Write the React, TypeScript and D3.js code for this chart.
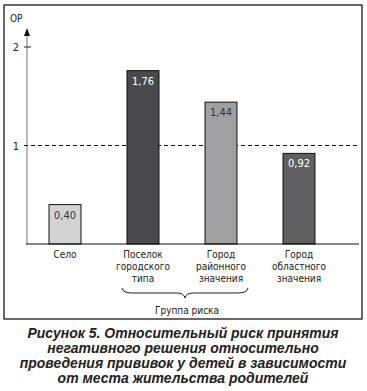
import { useEffect, useRef } from 'react';
import * as d3 from 'd3';

// Категории и значения ОР
const categories = ['Село', 'Поселок городского типа', 'Город районного значения', 'Город областного значения'];
const labelLines = [['Село'], ['Поселок', 'городского', 'типа'], ['Город', 'районного', 'значения'], ['Город', 'областного', 'значения']];
const values = [0.4, 1.76, 1.44, 0.92];
const valueLabels = ['0,40', '1,76', '1,44', '0,92'];
const barColors = ['#d3d3d4', '#4a4a4c', '#a0a0a2', '#5f5f61'];
const valueColors = ['#333', '#fff', '#333', '#fff'];
const yTicks = [1, 2];
const riskGroup = ['Поселок городского типа', 'Город районного значения'];
const captionLines = [
  'Рисунок 5. Относительный риск принятия',
  'негативного решения относительно',
  'проведения прививок у детей в зависимости',
  'от места жительства родителей',
];

const W = 367;
const H = 391;
const NARROW = "'Liberation Sans Narrow', 'DejaVu Sans Condensed', 'Arial Narrow', sans-serif";

export default function App() {
  const svgRef = useRef<SVGSVGElement>(null);

  useEffect(() => {
    if (!svgRef.current) return;
    const svg = d3.select(svgRef.current);
    svg.selectAll('*').remove();

    const x = d3.scaleBand<string>()
      .domain(categories)
      .range([26, 338])
      .paddingInner(0.59)
      .paddingOuter(0.295);
    const y = d3.scaleLinear().domain([0, 2]).range([244, 47]);
    const axisX = 27;

    // рамка
    svg.append('rect')
      .attr('x', 4).attr('y', 5).attr('width', 358).attr('height', 314)
      .attr('fill', 'none').attr('stroke', '#1a1a1a').attr('stroke-width', 1.3);

    // ось Y со стрелкой
    svg.append('line')
      .attr('x1', axisX).attr('x2', axisX).attr('y1', 34).attr('y2', 244)
      .attr('stroke', '#777').attr('stroke-width', 1);
    svg.append('path')
      .attr('d', `M${axisX},28 L${axisX - 3},36 L${axisX + 3},36 Z`)
      .attr('fill', '#111');
    svg.append('text')
      .attr('x', 10).attr('y', 22)
      .attr('font-family', NARROW).attr('font-size', 10).attr('fill', '#222')
      .text('ОР');

    // деления
    svg.append('line')
      .attr('x1', axisX - 3).attr('x2', axisX + 4).attr('y1', y(2)).attr('y2', y(2))
      .attr('stroke', '#222');
    svg.selectAll('.ytick')
      .data(yTicks)
      .enter()
      .append('text')
      .attr('x', 19).attr('y', (d) => y(d) + 4)
      .attr('text-anchor', 'end')
      .attr('font-family', NARROW).attr('font-size', 11).attr('fill', '#222')
      .text((d) => d);

    // пунктир ОР = 1
    svg.append('line')
      .attr('x1', axisX - 3).attr('x2', 360).attr('y1', y(1)).attr('y2', y(1))
      .attr('stroke', '#111').attr('stroke-width', 1).attr('stroke-dasharray', '4,3');

    // столбцы
    svg.selectAll('.bar')
      .data(values)
      .enter()
      .append('rect')
      .attr('x', (_, i) => x(categories[i])!)
      .attr('y', (d) => y(d))
      .attr('width', x.bandwidth())
      .attr('height', (d) => y(0) - y(d))
      .attr('fill', (_, i) => barColors[i])
      .attr('stroke', '#111').attr('stroke-width', 1);

    svg.selectAll('.val')
      .data(values)
      .enter()
      .append('text')
      .attr('x', (_, i) => x(categories[i])! + x.bandwidth() / 2)
      .attr('y', (d) => y(d) + 14)
      .attr('text-anchor', 'middle')
      .attr('font-family', NARROW).attr('font-size', 11)
      .attr('fill', (_, i) => valueColors[i])
      .text((_, i) => valueLabels[i]);

    // базовая линия
    svg.append('line')
      .attr('x1', axisX - 1).attr('x2', 359).attr('y1', y(0)).attr('y2', y(0))
      .attr('stroke', '#111').attr('stroke-width', 1.2);

    // подписи категорий
    categories.forEach((c, i) => {
      const t = svg.append('text')
        .attr('text-anchor', 'middle')
        .attr('font-family', NARROW).attr('font-size', 10).attr('fill', '#222');
      labelLines[i].forEach((ln, j) => {
        t.append('tspan')
          .attr('x', x(c)! + x.bandwidth() / 2)
          .attr('y', 258 + j * 12)
          .text(ln);
      });
    });

    // фигурная скобка «Группа риска»
    const bx0 = x(riskGroup[0])! - 5;
    const bx1 = x(riskGroup[1])! + x.bandwidth() + 11;
    const bm = (bx0 + bx1) / 2;
    const by = 288;
    svg.append('path')
      .attr('d', `M${bx0},${by} Q${bx0 + 1},${by + 5} ${bx0 + 10},${by + 5} L${bm - 8},${by + 5} Q${bm - 1},${by + 5} ${bm},${by + 10} Q${bm + 1},${by + 5} ${bm + 8},${by + 5} L${bx1 - 10},${by + 5} Q${bx1 - 1},${by + 5} ${bx1},${by}`)
      .attr('fill', 'none').attr('stroke', '#222').attr('stroke-width', 1);
    svg.append('text')
      .attr('x', bm + 2).attr('y', 314)
      .attr('text-anchor', 'middle')
      .attr('font-family', NARROW).attr('font-size', 10).attr('fill', '#222')
      .text('Группа риска');

    // подпись рисунка
    svg.selectAll('.cap')
      .data(captionLines)
      .enter()
      .append('text')
      .attr('x', 183).attr('y', (_, i) => 338 + i * 15)
      .attr('text-anchor', 'middle')
      .attr('font-family', "'Liberation Sans', Arial, sans-serif")
      .attr('font-size', 14).attr('font-weight', 'bold').attr('font-style', 'italic')
      .attr('fill', '#222')
      .text((d) => d);
  }, []);

  return (
    <svg ref={svgRef} width={W} height={H}
      style={{ position: 'absolute', left: 0, top: 0, background: '#fff' }} />
  );
}
